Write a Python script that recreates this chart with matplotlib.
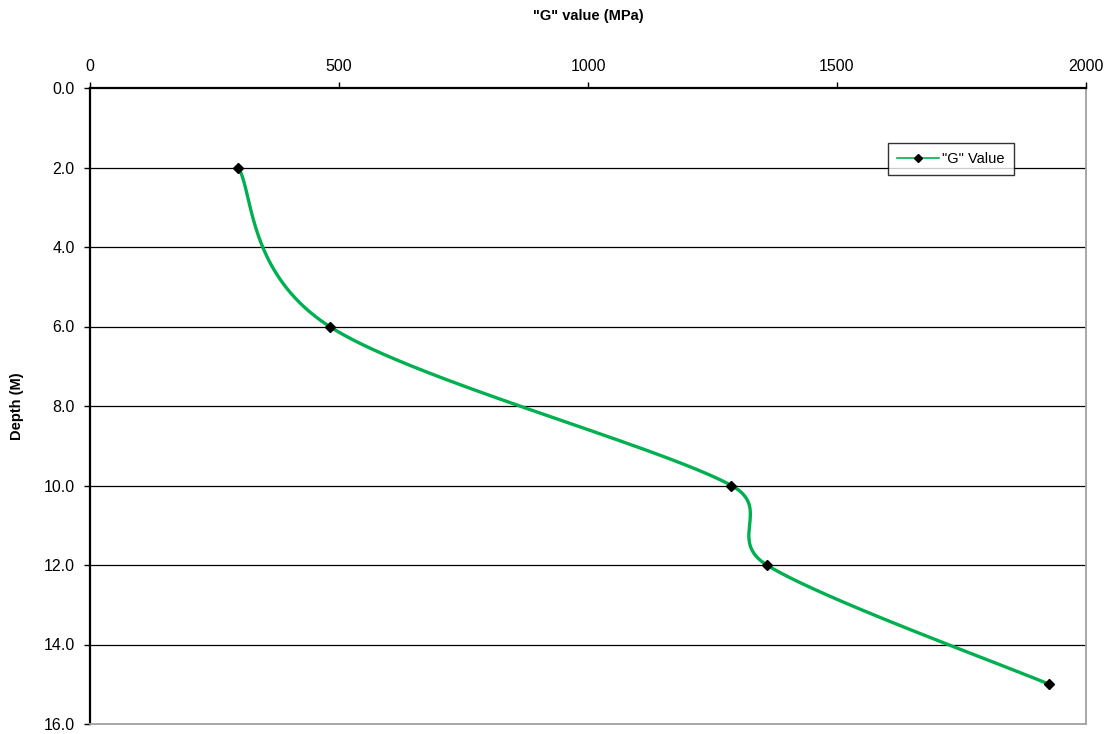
import numpy as np
import matplotlib
matplotlib.use("Agg")
import matplotlib.pyplot as plt
from matplotlib.lines import Line2D

# Data
depth = [2.0, 6.0, 10.0, 12.0, 15.0]
g_value = [298, 481, 1288, 1359, 1926]
series_label = '"G" Value'
x_ticks = [0, 500, 1000, 1500, 2000]
y_ticks = [0, 2, 4, 6, 8, 10, 12, 14, 16]

plt.rcParams['font.family'] = ['Liberation Sans', 'DejaVu Sans']

fig = plt.figure(figsize=(11.09, 7.34), dpi=100)
ax = fig.add_axes([90/1109, 1 - 724/734, 996/1109, 636/734])
ax.set_xlim(0, 2000)
ax.set_ylim(16, 0)

green = '#00B050'

# Excel-like smoothed line (Bezier with Catmull-Rom tangents, capped by segment length, display space)
fig.canvas.draw()
pts = ax.transData.transform(np.column_stack([g_value, depth]))
n = len(pts)
CAP = 0.55


def capped(offset, seg_len):
    L = np.linalg.norm(offset)
    lim = CAP * seg_len
    if L > lim and L > 0:
        offset = offset * (lim / L)
    return offset


curve = []
t = np.linspace(0, 1, 80)[:, None]
for i in range(n - 1):
    p1 = pts[i]
    p2 = pts[i + 1]
    d12 = np.linalg.norm(p2 - p1)
    p0 = pts[i - 1] if i > 0 else p1
    p3 = pts[i + 2] if i + 2 < n else p2
    c1 = p1 + capped((p2 - p0) / 6.0, d12)
    c2 = p2 - capped((p3 - p1) / 6.0, d12)
    seg = ((1 - t) ** 3) * p1 + 3 * ((1 - t) ** 2) * t * c1 + 3 * (1 - t) * t ** 2 * c2 + t ** 3 * p2
    curve.append(seg if i == 0 else seg[1:])
curve = np.vstack(curve)
curve_data = ax.transData.inverted().transform(curve)
ax.plot(curve_data[:, 0], curve_data[:, 1], color=green, lw=2.4, solid_capstyle='round', zorder=3)
ax.plot(g_value, depth, linestyle='none', marker='D', markersize=5.5, color='black', zorder=4)

# Grid
ax.set_yticks(y_ticks)
ax.set_xticks(x_ticks)
for yv in y_ticks[1:-1]:
    ax.axhline(yv, color='black', lw=0.9, zorder=1)

ax.xaxis.tick_top()
ax.xaxis.set_label_position('top')
ax.set_yticklabels([f'{v:.1f}' for v in y_ticks])
ax.set_xticklabels([str(v) for v in x_ticks])
ax.tick_params(axis='x', length=4, width=1, pad=6, labelsize=11.5, color='black')
ax.tick_params(axis='y', length=4, width=1, pad=7, labelsize=11.5, color='black')

ax.spines['top'].set_linewidth(1.6)
ax.spines['left'].set_linewidth(1.6)
ax.spines['top'].set_color('black')
ax.spines['left'].set_color('black')
ax.spines['right'].set_color('#a0a0a0')
ax.spines['bottom'].set_color('#a0a0a0')
ax.spines['right'].set_linewidth(1.3)
ax.spines['bottom'].set_linewidth(1.3)

ax.set_xlabel('"G" value (MPa)', fontsize=10.5, fontweight='bold', labelpad=28)
ax.set_ylabel('Depth (M)', fontsize=10.5, fontweight='bold', labelpad=14)

handle = Line2D([], [], color=green, lw=1.2, marker='D', markersize=4, markerfacecolor='black', markeredgecolor='black')
leg = ax.legend([handle], [series_label], loc='upper left', bbox_to_anchor=(0.801, 0.913),
                fontsize=10.5, frameon=True, fancybox=False, edgecolor='black',
                borderpad=0.6, handlelength=2.9, handletextpad=0.25, borderaxespad=0)
leg.get_frame().set_linewidth(1.0)

fig.savefig('out.png', dpi=100)
